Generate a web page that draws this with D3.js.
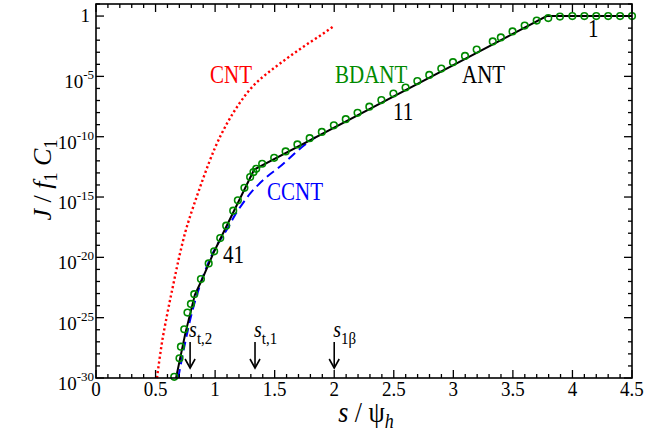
<!DOCTYPE html>
<html>
<head>
<meta charset="utf-8">
<script src="https://cdn.jsdelivr.net/npm/d3@7"></script>
<style>
  body { margin: 0; background: #fff; }
  svg { font-family: "Liberation Serif", "Times New Roman", serif; }
</style>
</head>
<body>
<svg id="chart" width="646" height="439"></svg>
<script>
// values; y values are log10(J / f1 C1)
const bdantS   = [0.657, 0.701, 0.713, 0.741, 0.768, 0.797, 0.825, 0.881, 0.946, 0.992, 1.043, 1.093, 1.152, 1.191, 1.246, 1.294, 1.322, 1.345, 1.395, 1.496, 1.592, 1.691, 1.794, 1.896, 1.997, 2.097, 2.196, 2.295, 2.396, 2.497, 2.599, 2.698, 2.798, 2.899, 2.997, 3.098, 3.196, 3.331, 3.399, 3.497, 3.599, 3.700, 3.797, 3.895, 3.999, 4.1, 4.2, 4.3, 4.4, 4.5];
const bdantLog = [-29.9, -28.37, -27.4, -25.96, -24.58, -23.86, -23.05, -21.8, -20.5, -19.5, -18.4, -17.37, -16.13, -15.27, -14.24, -13.34, -12.93, -12.66, -12.24, -11.75, -11.22, -10.64, -10.12, -9.6, -9.06, -8.55, -8.02, -7.51, -6.96, -6.42, -5.92, -5.39, -4.88, -4.35, -3.82, -3.3, -2.78, -2.1, -1.77, -1.27, -0.79, -0.37, -0.17, -0.04, 0, 0, 0, 0, 0, 0];

const antS   = [0.672, 0.75, 0.83, 0.889, 0.987, 1.328, 3.784, 4.5];
const antLog = [-30, -26.3, -23.1, -21.86, -19.62, -12.72, 0, 0];

const cntS   = [0.512, 0.55, 0.6, 0.65, 0.7, 0.75, 0.8, 0.85, 0.9, 1.0, 1.1, 1.2, 1.3, 1.4, 1.5, 1.6, 1.7, 1.8, 1.9, 1.993];
const cntLog = [-30, -27.3, -24.6, -22.2, -19.9, -17.9, -16.3, -14.85, -13.45, -10.9, -8.9, -7.3, -6.0, -5.05, -4.27, -3.53, -2.83, -2.15, -1.5, -0.85];

const ccntS   = [0.69, 0.75, 0.79, 0.869, 0.95, 1.03, 1.099, 1.169, 1.225, 1.295, 1.364, 1.448, 1.532, 1.616, 1.70, 1.77, 1.84];
const ccntLog = [-30, -27.0, -25.2, -22.44, -20.3, -18.75, -17.7, -16.46, -15.63, -14.7, -13.97, -13.22, -12.58, -11.85, -11.1, -10.55, -10.06];

const xTicks = [0, 0.5, 1, 1.5, 2, 2.5, 3, 3.5, 4, 4.5];
const xTickLabels = ["0", "0.5", "1", "1.5", "2", "2.5", "3", "3.5", "4", "4.5"];
const yTickExp = [0, -5, -10, -15, -20, -25, -30];

const markers = [
  { s: 0.79, sub: "t,2" },
  { s: 1.335, sub: "t,1" },
  { s: 2.0, sub: "1\u03b2" }
];

const svg = d3.select("#chart");
const mLeft = 96, mRight = 632, mTop = 4, mBottom = 378;
const STRETCH = 1.15; // text in the picture looks a bit taller than wide

const x = d3.scaleLinear().domain([0, 4.5]).range([mLeft, mRight]);
const y = d3.scaleLog().domain([1e-30, 10]).range([mBottom, mTop]);

const pts = (s, e) => s.map((v, i) => [v, Math.pow(10, e[i])]);
const line = d3.line().x(d => x(d[0])).y(d => y(d[1]));
const smooth = d3.line().x(d => x(d[0])).y(d => y(d[1])).curve(d3.curveMonotoneX);

// text placed at (tx,ty) and stretched vertically about its baseline
const stext = (tx, ty) => svg.append("text")
  .attr("transform", `translate(${tx},${ty}) scale(1,${STRETCH})`);

// curves
svg.append("path").datum(pts(cntS, cntLog))
  .attr("d", smooth).attr("fill", "none")
  .attr("stroke", "#ff0000").attr("stroke-width", 2.4)
  .attr("stroke-dasharray", "2.2,2.6");

svg.append("path").datum(pts(ccntS, ccntLog))
  .attr("d", smooth).attr("fill", "none")
  .attr("stroke", "#0000ff").attr("stroke-width", 2)
  .attr("stroke-dasharray", "9,5");

svg.append("path").datum(pts(antS, antLog))
  .attr("d", line).attr("fill", "none")
  .attr("stroke", "#000").attr("stroke-width", 2);

svg.selectAll(".bd").data(pts(bdantS, bdantLog)).enter()
  .append("circle")
  .attr("cx", d => x(d[0])).attr("cy", d => y(d[1]))
  .attr("r", 3.3).attr("fill", "none")
  .attr("stroke", "#008a00").attr("stroke-width", 1.6);

// frame
svg.append("rect").attr("x", mLeft).attr("y", mTop)
  .attr("width", mRight - mLeft).attr("height", mBottom - mTop)
  .attr("fill", "none").attr("stroke", "#000").attr("stroke-width", 1.6);

// ticks (inward, mirrored)
const xMinor = d3.range(0, 4.5001, 0.1);
const yMinor = d3.range(-30, 1.001, 1);
const tk = svg.append("g").attr("stroke", "#000").attr("stroke-width", 1.3);
xMinor.forEach(v => {
  const major = Math.abs(v * 2 - Math.round(v * 2)) < 1e-6;
  const len = major ? 8 : 4;
  tk.append("line").attr("x1", x(v)).attr("x2", x(v)).attr("y1", mBottom).attr("y2", mBottom - len);
  tk.append("line").attr("x1", x(v)).attr("x2", x(v)).attr("y1", mTop).attr("y2", mTop + len);
});
yMinor.forEach(e => {
  const major = e % 5 === 0;
  const len = major ? 8 : 4;
  const yy = y(Math.pow(10, e));
  tk.append("line").attr("x1", mLeft).attr("x2", mLeft + len).attr("y1", yy).attr("y2", yy);
  tk.append("line").attr("x1", mRight).attr("x2", mRight - len).attr("y1", yy).attr("y2", yy);
});

// tick labels
xTicks.forEach((v, i) => {
  stext(x(v), 396).attr("text-anchor", "middle").attr("font-size", 19)
    .text(xTickLabels[i]);
});
yTickExp.forEach(e => {
  const yy = y(Math.pow(10, e));
  if (e === 0) {
    svg.append("text").attr("x", 90).attr("y", yy + 6)
      .attr("text-anchor", "end").attr("font-size", 19).text("1");
  } else {
    const t = svg.append("text").attr("x", 94).attr("y", yy + 12)
      .attr("text-anchor", "end").attr("font-size", 19);
    t.append("tspan").text("10");
    t.append("tspan").attr("dy", -9).attr("font-size", 13).text(e);
  }
});

// axis titles
const xt = stext(366, 422).attr("text-anchor", "middle").attr("font-size", 26);
xt.append("tspan").attr("font-style", "italic").text("s");
xt.append("tspan").text(" / \u03c8");
xt.append("tspan").attr("font-style", "italic").attr("font-size", 18).attr("dy", 5).text("h");

const yt = svg.append("text")
  .attr("transform", "translate(51,180) rotate(-90)")
  .attr("text-anchor", "middle").attr("font-size", 26);
yt.append("tspan").attr("font-style", "italic").text("J");
yt.append("tspan").text(" / ");
yt.append("tspan").attr("font-style", "italic").text("f");
yt.append("tspan").attr("font-size", 18).attr("dy", 6).text("1");
yt.append("tspan").attr("font-style", "italic").attr("dy", -6).text(" C");
yt.append("tspan").attr("font-size", 18).attr("dy", 6).text("1");

// curve labels
const lab = (tx, ty, txt, col) => stext(tx, ty)
  .attr("font-size", 21).attr("fill", col).text(txt);
lab(210, 83, "CNT", "#ff0000");
lab(335, 83, "BDANT", "#008a00");
lab(462, 83, "ANT", "#000");
lab(267, 200, "CCNT", "#0000ff");
lab(223, 263, "41", "#000");
lab(393, 120, "11", "#000");
lab(588, 37, "1", "#000");

// marker arrows
markers.forEach(m => {
  const mx = x(m.s);
  svg.append("line").attr("x1", mx).attr("x2", mx).attr("y1", 342).attr("y2", 366)
    .attr("stroke", "#000").attr("stroke-width", 1.6);
  svg.append("path")
    .attr("d", `M${mx - 5},${359} L${mx},${368} L${mx + 5},${359}`)
    .attr("fill", "none").attr("stroke", "#000").attr("stroke-width", 1.6);
  const t = stext(mx - 1, 337).attr("font-size", 20);
  t.append("tspan").attr("font-style", "italic").text("s");
  t.append("tspan").attr("font-size", 15).attr("dy", 6).text(m.sub);
});
</script>
</body>
</html>
